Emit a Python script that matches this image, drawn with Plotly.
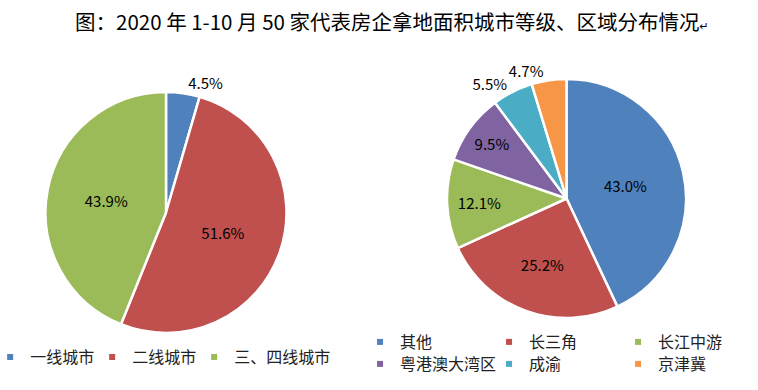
import plotly.graph_objects as go

# ---- data ----
title_text = "图：2020 年 1-10 月 50 家代表房企拿地面积城市等级、区域分布情况"
tier_labels = ["一线城市", "二线城市", "三、四线城市"]
tier_values = [4.5, 51.6, 43.9]
region_labels = ["其他", "长三角", "长江中游", "粤港澳大湾区", "成渝", "京津冀"]
region_values = [43.0, 25.2, 12.1, 9.5, 5.5, 4.7]

# ---- styles ----
palette = ["#4F81BD", "#C0504D", "#9BBB59", "#8064A2", "#4BACC6", "#F79646"]
FONT = "Noto Sans CJK SC"
W, H = 758, 390
TXT = dict(family=FONT, size=15, color="black")

fig = go.Figure()

pie_common = dict(
    sort=False,
    direction="clockwise",
    rotation=0,
    textfont=TXT, insidetextfont=TXT, outsidetextfont=TXT,
    insidetextorientation="horizontal",
    showlegend=False,
)

fig.add_trace(go.Pie(
    labels=tier_labels, values=tier_values,
    texttemplate="%{value:.1f}%",
    marker=dict(colors=palette[:3], line=dict(color="white", width=2.5)),
    textposition=["outside", "inside", "inside"],
    domain=dict(x=[45 / W, 287 / W], y=[1 - 333 / H, 1 - 92 / H]),
    hoverinfo="label+percent",
    **pie_common,
))

right_domain = dict(x=[447 / W, 686 / W], y=[1 - 318 / H, 1 - 79 / H])
# right pie: slices + labels (last small slice's label drawn by the overlay below)
fig.add_trace(go.Pie(
    labels=region_labels, values=region_values,
    texttemplate=["%{value:.1f}%"] * 5 + [""],
    marker=dict(colors=palette[:6], line=dict(color="white", width=2.5)),
    textposition=["inside", "inside", "inside", "inside", "outside", "outside"],
    domain=right_domain,
    hoverinfo="label+percent",
    **pie_common,
))
# transparent overlay of the same data, carrying only the 京津冀 label
fig.add_trace(go.Pie(
    labels=region_labels, values=region_values,
    texttemplate=[""] * 5 + ["%{value:.1f}%"],
    marker=dict(colors=["rgba(0,0,0,0)"] * 6, line=dict(width=0)),
    textposition=["inside"] * 5 + ["outside"],
    domain=right_domain,
    hoverinfo="skip",
    **pie_common,
))

# legend entries (small square keys) built from the same category lists
for i, (lab, col) in enumerate(zip(tier_labels, palette)):
    fig.add_trace(go.Scatter(x=[None], y=[None], mode="markers", name=lab,
                             marker=dict(symbol="square", size=6, color=col),
                             legend="legend", hoverinfo="skip",
                             legendwidth=(105 if i == 2 else 57)))
for i, (lab, col) in enumerate(zip(region_labels, palette)):
    fig.add_trace(go.Scatter(x=[None], y=[None], mode="markers", name=lab,
                             marker=dict(symbol="square", size=6, color=col),
                             legend="legend2" if i < 3 else "legend3",
                             hoverinfo="skip", legendwidth=84))

leg_common = dict(orientation="h", font=dict(family=FONT, size=16, color="#222"),
                  bgcolor="rgba(0,0,0,0)", xanchor="left", yanchor="middle",
                  itemclick=False, itemdoubleclick=False)

fig.update_layout(
    width=W, height=H,
    margin=dict(l=0, r=0, t=0, b=0, autoexpand=False),
    paper_bgcolor="white", plot_bgcolor="white",
    font=dict(family=FONT),
    title=dict(
        text=title_text + '<span style="font-size:11px;font-family:DejaVu Sans">↵</span>',
        x=0.517, xanchor="center", y=1 - 23 / H, yanchor="middle",
        font=dict(family=FONT, size=20.5, color="black"),
    ),
    xaxis=dict(visible=False), yaxis=dict(visible=False),
    legend=dict(x=-0.013, y=1 - 357 / H, **leg_common),
    legend2=dict(x=0.475, y=1 - 342 / H, **leg_common),
    legend3=dict(x=0.475, y=1 - 364 / H, **leg_common),
)

fig.write_html(
    "out.html",
    config={"displayModeBar": False},
    post_script="document.body.style.margin='0';document.body.style.overflow='hidden';",
)
